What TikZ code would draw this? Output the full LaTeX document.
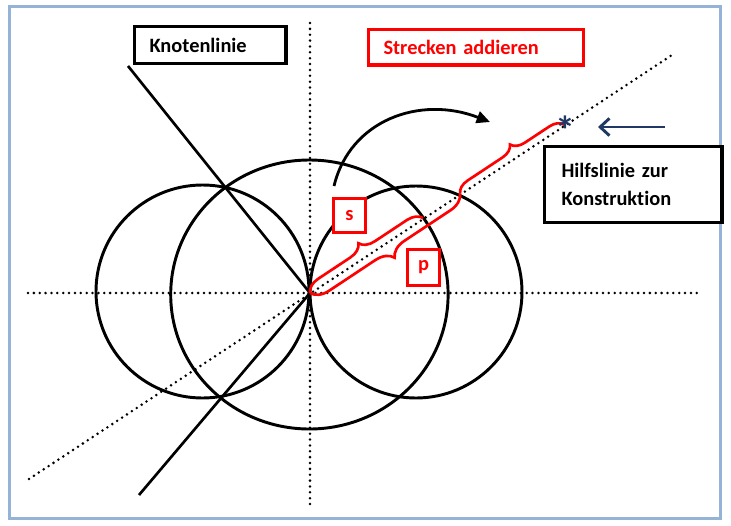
\documentclass[tikz,border=0pt]{standalone}
\usepackage{fontspec}
\setmainfont{Carlito}[Ligatures=NoCommon]
\usepackage{xcolor}
\usepackage{tikz}
\usetikzlibrary{arrows.meta}
\usetikzlibrary{decorations.pathreplacing}
\definecolor{frameblue}{RGB}{149,179,215}
\definecolor{navy}{RGB}{31,56,100}
\tikzset{
    dots/.style={line width=2.1pt, line cap=round, dash pattern=on 0pt off 4.4pt},
    circ/.style={line width=2.2pt},
    labelbox/.style={draw, line width=2.3pt, fill=white, inner ysep=0pt, anchor=north west, align=left,
        font=\fontsize{15.3}{21.2}\selectfont\bfseries},
    tagbox/.style={draw=red, text=red, line width=2.3pt, fill=white, inner sep=0pt,
        font=\fontsize{15.3}{17}\selectfont\bfseries},
    redbrace/.style={decorate, decoration={brace, amplitude=#1}, red, line width=2pt}}

\begin{document}
\begin{tikzpicture}[x=0.75pt, y=-0.75pt]
                
                    \useasboundingbox (0,0) rectangle (731,525);
                    \draw[frameblue, line width=2.25pt] (9.5,6.5) rectangle (720.5,518.5);
                
                    \coordinate (O) at (310,293);
                    \draw[circ] (202.5,291.5) circle[radius=106.5];
                    \draw[circ] (309.4,294.5) ellipse[x radius=138.7, y radius=134.5];
                    \draw[circ] (416,292) circle[radius=106];
                
                    \draw[dots] (310,23) -- (310,505);
                    \draw[dots] (28,293) -- (698,293);
                    \draw[dots] (29,479) -- (672,55);
                
                    \coordinate (kn top) at (128,66);
                    \coordinate (kn bot) at (139,495);
                    \draw[line width=2pt] (kn top) -- (O) -- (kn bot);
                
                    \coordinate (S) at (423.4,217.9);
                    \coordinate (P) at (460.1,193.5);
                    \coordinate (E) at (564.4,124.5);
                    \draw[redbrace=11pt] (O) -- (S);
                    \draw[redbrace=13pt, decoration={mirror}] (O) -- (P);
                    \draw[redbrace=10pt, decoration={aspect=0.55}] (P) -- (E);
                    \node[navy, inner sep=0pt, font=\fontsize{30}{30}\selectfont\bfseries] (star) at (565,130) {*};
                
                    \coordinate (rot a) at (334,186);
                    \coordinate (rot b) at (490,122);
                    \draw[line width=2.1pt, -{Triangle[length=10pt, width=9pt]}] (rot a) .. controls (350,120) and (420,95) .. (rot b);
                
                    \node[tagbox, minimum width=24pt, minimum height=25.5pt] (s) at (349.5,215.5) {s};
                    \node[tagbox, minimum width=24pt, minimum height=27pt] (p) at (423.5,267.5) {p};
                
                    \node[labelbox, inner xsep=11.25pt, text width=91.1pt, minimum height=27.75pt] (knoten) at (133,25) {Knotenlinie};
                    \node[labelbox, draw=red, text=red, inner xsep=11.6pt, text width=138.4pt, minimum height=26.6pt] (strecken) at (366.5,28) {Strecken addieren};
                    \node[labelbox, inner xsep=12.75pt, text width=107.6pt, minimum height=57pt] (hilfs) at (543,145) {Hilfslinie zur\\Konstruktion};
                
                    \coordinate (hl a) at (665,127);
                    \coordinate (hl b) at (598,127);
                    \draw[navy, line width=2.2pt, -{Straight Barb[length=7pt, width=13pt]}] (hl a) -- (hl b);
            
\end{tikzpicture}
\end{document}
